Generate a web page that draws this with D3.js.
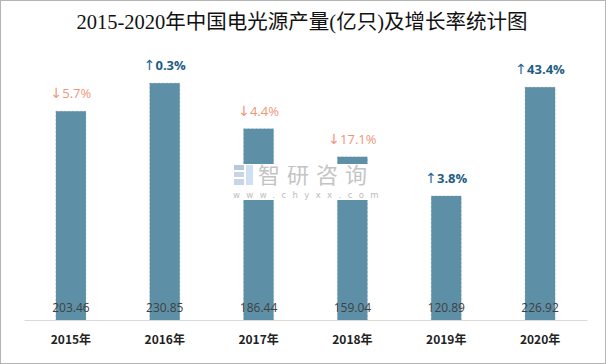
<!DOCTYPE html>
<html><head><meta charset="utf-8">
<script src="https://cdn.jsdelivr.net/npm/d3@7"></script>
<style>body{margin:0;background:#fff}svg{display:block}</style>
</head><body>
<svg id="c" width="606" height="364"></svg>
<script>
const years = ["2015年","2016年","2017年","2018年","2019年","2020年"];
const output = [203.46, 230.85, 186.44, 159.04, 120.89, 226.92];
const growth = ["5.7%","0.3%","4.4%","17.1%","3.8%","43.4%"];
const growthDir = ["down","up","down","down","up","up"];

const svg = d3.select("#c");
const W = 606, H = 364;
svg.append("rect").attr("x",0.5).attr("y",0.5).attr("width",W-1).attr("height",H-1)
  .attr("fill","#fff").attr("stroke","#b4b4b4");

svg.append("text").attr("x",302).attr("y",29).attr("text-anchor","middle")
  .attr("font-family","'Liberation Serif','DejaVu Serif','Noto Sans CJK SC',serif")
  .attr("font-size",20.5).attr("fill","#111")
  .text("2015-2020年中国电光源产量(亿只)及增长率统计图");

const x = d3.scaleBand().domain(years).range([24,587]).paddingInner(0.68).paddingOuter(0.34);
const y = d3.scaleLinear().domain([0,250]).range([320,63.5]);

const g = svg.append("g");
g.selectAll("rect.bar").data(output).join("rect").attr("class","bar")
  .attr("x",(d,i)=>x(years[i])).attr("width",x.bandwidth())
  .attr("y",d=>y(d)).attr("height",d=>y(0)-y(d))
  .attr("fill","#5d90a7").attr("stroke","#4f8299").attr("stroke-width",0.5)
  .attr("stroke-opacity",0.6).attr("stroke-dasharray","2,2");

// axis
const ax = svg.append("g").attr("transform","translate(0,320)")
  .call(d3.axisBottom(x).tickSize(0).tickPadding(15));
ax.select(".domain").attr("stroke","#d9d9d9").attr("stroke-width",1.2);
ax.selectAll("text").attr("font-family","'Noto Sans CJK SC',sans-serif")
  .attr("font-size",12).attr("font-weight","bold").attr("fill","#222");

// value labels
g.selectAll("text.val").data(output).join("text").attr("class","val")
  .attr("x",(d,i)=>x(years[i])+x.bandwidth()/2).attr("y",312)
  .attr("text-anchor","middle").attr("font-family","'Open Sans','Noto Sans',sans-serif")
  .attr("font-size",12).attr("fill","#404040").text(d=>d.toFixed(2));

// growth labels
const gl = g.selectAll("text.gr").data(output).join("text").attr("class","gr")
  .attr("x",(d,i)=>x(years[i])+x.bandwidth()/2).attr("y",d=>y(d)-13)
  .attr("text-anchor","middle").attr("font-family","'Open Sans','Noto Sans',sans-serif")
  .attr("font-size",13)
  .attr("font-weight",(d,i)=>growthDir[i]==="up"?"bold":"normal")
  .attr("fill",(d,i)=>growthDir[i]==="up"?"#1c5d85":"#f0957a");
gl.append("tspan").attr("font-family","'DejaVu Sans',sans-serif").attr("font-size",14)
  .attr("font-weight","normal")
  .attr("fill",(d,i)=>growthDir[i]==="up"?"#1f6a9a":"#f0957a")
  .text((d,i)=>growthDir[i]==="up"?"↑":"↓");
gl.append("tspan").text((d,i)=>growth[i]);

// watermark
const wm = svg.append("g");
wm.append("rect").attr("x",230).attr("y",164).attr("width",150).attr("height",36).attr("fill","#fff");
wm.append("rect").attr("x",234).attr("y",165).attr("width",10).attr("height",5).attr("fill","#b9c7dc");
wm.append("rect").attr("x",234).attr("y",172).attr("width",10).attr("height",5).attr("fill","#c9d4e6");
wm.append("rect").attr("x",234).attr("y",179).attr("width",10).attr("height",6).attr("fill","#c9d4e6");
wm.append("rect").attr("x",246).attr("y",165).attr("width",7).attr("height",20).attr("fill","#cfe0f2");
wm.append("text").attr("x",258).attr("y",183).attr("font-family","'Noto Sans CJK SC',sans-serif")
  .attr("font-size",22).attr("fill","#c4c4c4").attr("letter-spacing",7).text("智研咨询");
wm.append("text").attr("x",233).attr("y",198).attr("font-family","'DejaVu Sans',sans-serif")
  .attr("font-size",8.5).attr("fill","#bdbdbd").attr("letter-spacing",6.4).text("www.chyxx.com");
</script>
</body></html>
